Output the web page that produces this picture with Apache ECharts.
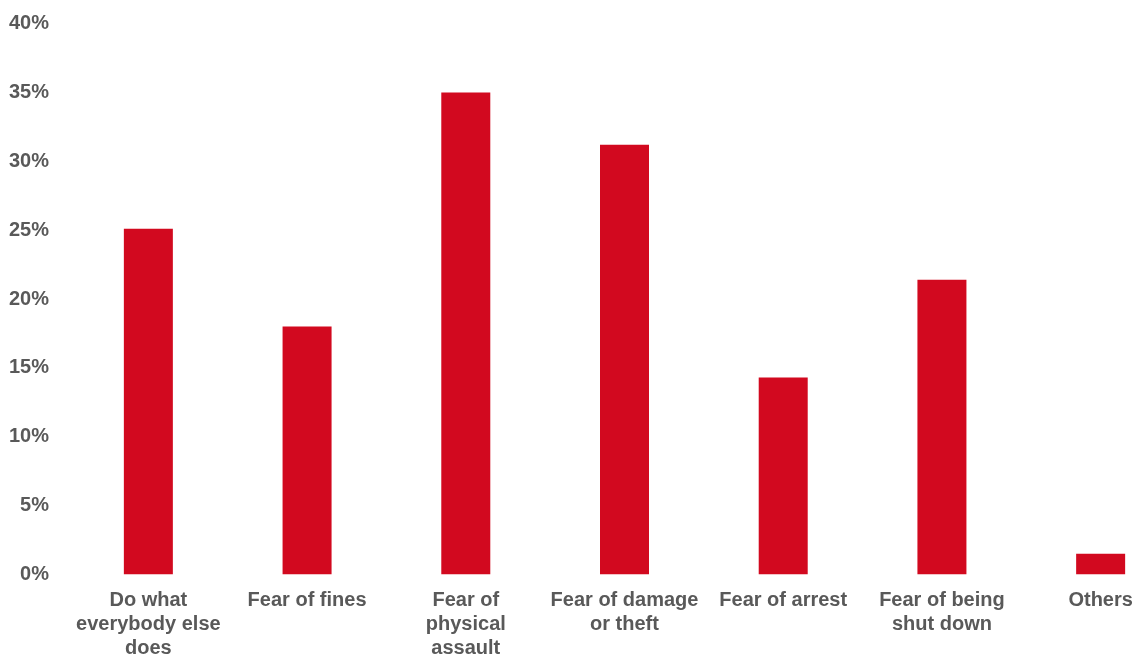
<!DOCTYPE html>
<html>
<head>
<meta charset="utf-8">
<script src="https://cdn.jsdelivr.net/npm/echarts@6/dist/echarts.min.js"></script>
<style>
  html, body { margin: 0; padding: 0; background: #fff; }
  #chart { width: 1137px; height: 655px; }
</style>
</head>
<body>
<div id="chart"></div>
<script>
// Reasons given for the behaviour (share of respondents, %)
const categories = [
  'Do what\neverybody else\ndoes',
  'Fear of fines',
  'Fear of\nphysical\nassault',
  'Fear of damage\nor theft',
  'Fear of arrest',
  'Fear of being\nshut down',
  'Others'
];
const shares = [25.1, 18.0, 35.0, 31.2, 14.3, 21.4, 1.5];
const yTicks = [0, 5, 10, 15, 20, 25, 30, 35, 40];

const textColor = '#595959';
const font = '"Liberation Sans", Arial, sans-serif';

const chart = echarts.init(document.getElementById('chart'), null, { renderer: 'canvas' });
chart.setOption({
  animation: false,
  backgroundColor: '#ffffff',
  grid: {
    left: 69, right: -43, top: 23.7, bottom: 80.7,
    containLabel: false,
    outerBoundsMode: 'none'
  },
  xAxis: {
    type: 'category',
    data: categories,
    axisLine: { show: false },
    axisTick: { show: false },
    axisLabel: {
      interval: 0,
      margin: 14,
      color: textColor,
      fontFamily: font,
      fontWeight: 'bold',
      fontSize: 20,
      lineHeight: 24,
      align: 'center'
    }
  },
  yAxis: {
    type: 'value',
    min: yTicks[0],
    max: yTicks[yTicks.length - 1],
    interval: yTicks[1] - yTicks[0],
    splitLine: { show: false },
    axisLine: { show: false },
    axisTick: { show: false },
    axisLabel: {
      margin: 20,
      color: textColor,
      fontFamily: font,
      fontWeight: 'bold',
      fontSize: 20,
      formatter: v => v + '%'
    }
  },
  series: [{
    type: 'bar',
    data: shares,
    barWidth: 49,
    itemStyle: { color: '#D2091F' }
  }]
});
</script>
</body>
</html>
